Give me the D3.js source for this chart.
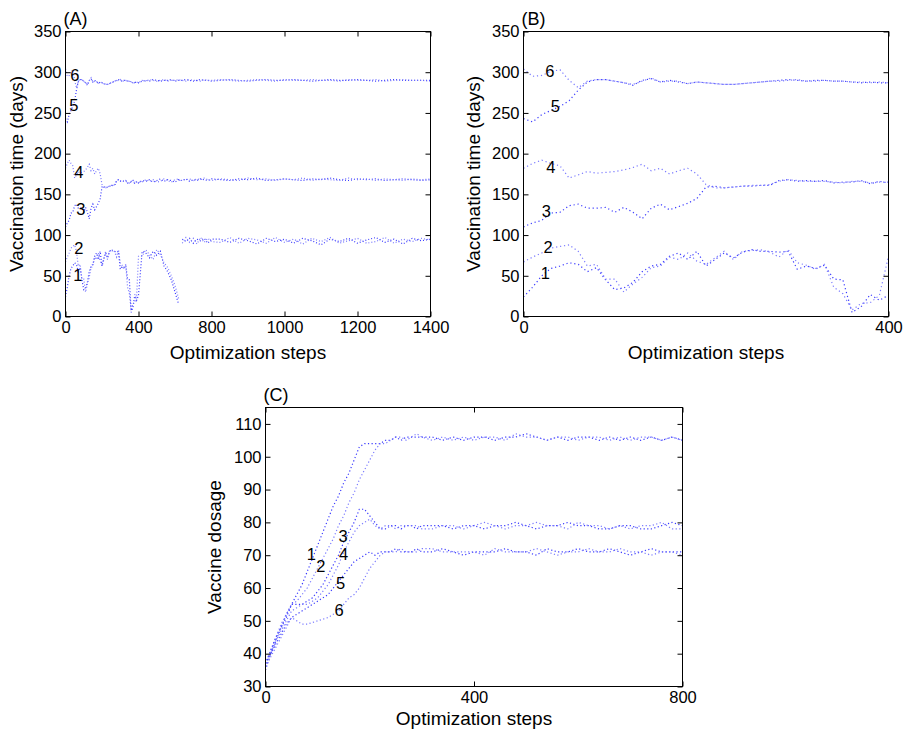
<!DOCTYPE html>
<html><head><meta charset="utf-8">
<script src="https://cdn.jsdelivr.net/npm/d3@7"></script>
<style>
body{margin:0;background:#fff}
text{font-family:"Liberation Sans",Arial,Helvetica,sans-serif;fill:#000}
</style>
</head><body>
<svg id="chart" width="909" height="732"></svg>
<script>
// ---------------- DATA ----------------
const seriesNames = ["1","2","3","4","5","6"];

// Early optimization steps (shared by panels A and B)
const stepsEarly = [0,10,20,30,40,50,60,70,80,90,100,110,120,130,140,150,160,170,180,190,200,
  210,220,230,240,250,260,270,280,290,300,310,320,330,340,350,360,370,380,390,400];
const early1 = [24,36,50,59,62,66,64,55,60,45,33,35,42,55,62,64,74,78,70,80,62,70,78,72,79,82,80,80,79,80,58,62,59,63,46,45,5,12,27,20,26];
const early2 = [67,73,78,84,86,88,80,62,64,46,46,30,40,48,60,62,73,70,78,68,64,72,80,70,80,81,82,79,73,82,66,63,58,64,36,28,8,16,17,26,74];
const early3 = [110,115,118,127,128,136,138,133,133,134,128,134,128,120,133,138,131,135,139,145,159,160,158,159,160,160,161,161,167,168,166,167,166,167,164,165,165,167,163,166,164];
const early4 = [182,188,192,188,185,170,174,178,176,177,178,180,183,187,179,182,175,179,182,175,162,158,158,159,160,161,161,162,166,168,167,166,166,166,165,164,166,166,164,165,165];
const early5 = [243,239,248,253,258,265,278,288,291,291,289,287,284,290,292,288,290,288,286,288,287,286,285,285,286,287,288,289,290,291,290,289,290,290,289,289,288,287,288,287,287];
const early6 = [304,295,296,301,303,290,281,289,291,291,289,287,285,289,293,288,289,289,286,288,287,286,285,285,286,287,288,289,289,290,291,289,289,290,289,289,288,288,287,288,287];

// Later steps (panel A only)
const stepsLateA = [420,440,460,480,500,520,540,560,580,600,620,630,640,660,680,700,720,740,760,780,800,
  825,850,875,900,925,950,975,1000,1025,1050,1075,1100,1125,1150,1175,1200,1225,1250,1275,1300,1325,1350,1375,1400];
const lateA1 = [80,78,72,80,75,80,62,55,45,30,15,null,95,92,96,90,95,93,96,90,95,
  95,91,96,93,89,96,92,95,90,96,93,88,95,92,96,90,94,97,91,95,89,96,93,95];
const lateA2 = [74,82,76,70,82,76,66,60,50,38,22,null,90,97,91,96,89,97,91,96,92,
  91,97,90,96,94,90,97,91,95,89,96,92,97,90,93,96,90,92,97,90,95,92,96,94];
const lateA3 = [167,166,168,165,167,169,166,168,167,165,168,167,167,169,166,168,167,169,168,167,169,
  168,167,169,168,170,167,168,169,168,167,169,168,170,168,167,169,168,169,167,168,169,168,167,168];
const lateA4 = [165,168,166,168,165,166,169,167,165,168,169,166,168,168,169,167,169,168,170,168,167,
  169,168,167,170,168,169,167,169,168,170,167,169,168,167,170,168,169,167,169,168,167,169,168,169];
const lateA5 = [289,290,289,291,290,289,290,290,291,289,290,290,290,291,290,289,290,291,290,290,289,
  290,291,290,289,290,291,290,290,291,290,289,290,291,290,290,291,290,289,290,291,290,290,290,290];
const lateA6 = [290,289,291,290,289,290,291,289,290,290,291,290,290,289,291,290,290,289,291,290,290,
  291,290,289,290,291,290,289,291,290,290,291,290,290,289,291,290,290,291,289,290,291,290,290,289];

// Panel C: vaccine dosage
const stepsC = [0,10,20,30,40,50,60,70,80,90,100,110,120,130,140,150,160,170,180,190,200,210,220,230,240,250,260,270,280,290,300,
  320,340,360,380,400,420,440,460,480,500,520,540,560,580,600,620,640,660,680,700,720,740,760,780,800];
const dose1 = [35,40,44,48,52,55,58,61,65,69,73,77,81,85,88,92,95,99,103,104,104,104,104,105,105,106,105,106,106,106,106,
  106,105,106,105,106,106,105,106,106,107,106,105,106,105,106,106,105,106,105,106,105,106,105,106,105];
const dose2 = [36,41,45,49,52,55,56,58,60,63,66,69,72,75,79,82,86,89,93,96,99,102,104,104,105,106,106,105,106,107,106,
  105,106,105,106,105,106,106,105,107,106,106,105,106,106,105,106,106,105,106,105,106,106,105,106,105];
const dose3 = [37,41,45,48,51,55,55,55,56,57,59,61,64,67,70,74,77,80,84,84,82,80,78,78,79,79,78,79,79,78,79,
  79,79,78,79,79,78,79,79,80,79,78,79,79,80,79,79,78,78,79,79,78,78,79,80,79];
const dose4 = [38,40,44,47,50,53,54,55,55,56,57,59,61,64,67,71,74,77,79,80,81,79,78,79,79,78,79,79,79,79,78,
  78,79,79,78,79,80,79,78,79,79,80,79,79,78,80,79,79,78,79,78,79,79,80,78,78];
const dose5 = [37,40,43,46,49,51,52,53,54,55,56,57,58,60,62,64,66,68,69,70,71,70,71,71,71,72,71,71,71,72,71,
  71,72,71,70,71,71,71,72,71,71,70,72,71,71,72,71,71,72,71,70,71,72,71,71,71];
const dose6 = [36,39,42,45,48,51,50,49,49,49.5,50,50.5,51,52,53,55,57,58,60,63,66,68,70,71,71,71,72,71,71,71,72,
  72,71,71,71,71,70,72,71,71,71,72,71,70,71,71,72,71,71,72,71,71,70,71,71,70];

// Ticks
const xTicksA = [0,400,800,1000,1200,1400];
const xTicksB = [0,400];
const xTicksC = [0,400,800];
const yTicksAB = [0,50,100,150,200,250,300,350];
const yTicksC = [30,40,50,60,70,80,90,100,110];

// Series label anchors [step, value]
const labelAtA = [[67,51],[73,84],[84,132],[73,178],[46,260],[51,296]];
const labelAtB = [[24,54],[27,85],[25,129],[30,184],[35,259],[29,301]];
const labelAtC = [[88,70.3],[106,66.7],[149,75.9],[150,70.3],[144,61.4],[141,53.2]];

// ---------------- STYLE ----------------
const seriesColors = ["#3a3aff","#7a7aff","#3a3aff","#7a7aff","#3a3aff","#7a7aff"];

// ---------------- DRAW ----------------
const svg = d3.select("#chart");

function zip(xs, ys){ return xs.map((s,i)=>[s, ys[i]]); }

const seriesA = [
  zip(stepsEarly.concat(stepsLateA), early1.concat(lateA1)),
  zip(stepsEarly.concat(stepsLateA), early2.concat(lateA2)),
  zip(stepsEarly.concat(stepsLateA), early3.concat(lateA3)),
  zip(stepsEarly.concat(stepsLateA), early4.concat(lateA4)),
  zip(stepsEarly.concat(stepsLateA), early5.concat(lateA5)),
  zip(stepsEarly.concat(stepsLateA), early6.concat(lateA6))
];
const seriesB = [early1,early2,early3,early4,early5,early6].map(v=>zip(stepsEarly, v));
const seriesC = [dose1,dose2,dose3,dose4,dose5,dose6].map(v=>zip(stepsC, v));

function drawPanel(p){
  const g = svg.append("g");
  const x = p.x, y = p.y;
  const [xl, xr] = [x.range()[0], x.range()[x.range().length-1]];
  const [yb, yt] = y.range();

  // series
  const line = d3.line().defined(d=>d[1]!=null).x(d=>x(d[0])).y(d=>y(d[1]));
  p.series.forEach((s,i)=>{
    g.append("path").datum(s)
      .attr("d", line)
      .attr("fill","none")
      .attr("stroke", seriesColors[i])
      .attr("stroke-width", 1.2)
      .attr("stroke-dasharray", p.dash);
  });

  // axes
  const fs = "16.5px";
  const bottom = g.append("g").attr("transform",`translate(0,${yb})`)
    .call(d3.axisBottom(x).tickValues(p.xTicks).tickFormat(d3.format("d")).tickSizeInner(-5).tickSizeOuter(0).tickPadding(5));
  const top = g.append("g").attr("transform",`translate(0,${yt})`)
    .call(d3.axisTop(x).tickValues(p.xTicks).tickFormat("").tickSizeInner(-5).tickSizeOuter(0));
  const left = g.append("g").attr("transform",`translate(${xl},0)`)
    .call(d3.axisLeft(y).tickValues(p.yTicks).tickFormat(d3.format("d")).tickSizeInner(-5).tickSizeOuter(0).tickPadding(4));
  const right = g.append("g").attr("transform",`translate(${xr},0)`)
    .call(d3.axisRight(y).tickValues(p.yTicks).tickFormat("").tickSizeInner(-5).tickSizeOuter(0));
  [bottom,top,left,right].forEach(a=>{
    a.select(".domain").remove();
    a.selectAll("line").attr("stroke","#000");
    a.selectAll("text").attr("font-size",fs).attr("font-family",null).style("fill","#000");
  });

  // frame
  g.append("rect").attr("x",xl).attr("y",yt).attr("width",xr-xl).attr("height",yb-yt)
    .attr("fill","none").attr("stroke","#000").attr("stroke-width",1);

  // series labels
  p.labels.forEach((d,i)=>{
    g.append("text").attr("x",x(d[0])).attr("y",y(d[1]))
      .attr("text-anchor","middle").attr("dominant-baseline","central")
      .attr("font-size","16.5px").text(seriesNames[i]);
  });

  // titles
  g.append("text").attr("x",(xl+xr)/2).attr("y",p.xTitleY)
    .attr("text-anchor","middle").attr("font-size","19px").text("Optimization steps");
  g.append("text").attr("transform",`translate(${p.yTitleX},${(yt+yb)/2}) rotate(-90)`)
    .attr("text-anchor","middle").attr("dominant-baseline","central")
    .attr("font-size","19px").text(p.yTitle);
  g.append("text").attr("x",xl-2).attr("y",yt-7).attr("font-size","18px").text(p.tag);
}

// Panel A (axis labelled 0,400,800,1000,1200,1400 at even spacing as in the figure)
const wA = 365;
drawPanel({
  x: d3.scaleLinear().domain([0,800,1400]).range([65.5, 65.5+0.4*wA, 65.5+wA]),
  y: d3.scaleLinear().domain([0,350]).range([316.5,31.5]),
  xTicks: xTicksA, yTicks: yTicksAB, series: seriesA, labels: labelAtA,
  dash: "1,2", xTitleY: 359, yTitleX: 16, yTitle: "Vaccination time (days)", tag: "(A)"
});
drawPanel({
  x: d3.scaleLinear().domain([0,400]).range([523.5,888.5]),
  y: d3.scaleLinear().domain([0,350]).range([316.5,31.5]),
  xTicks: xTicksB, yTicks: yTicksAB, series: seriesB, labels: labelAtB,
  dash: "1.2,2.8", xTitleY: 359, yTitleX: 473, yTitle: "Vaccination time (days)", tag: "(B)"
});
drawPanel({
  x: d3.scaleLinear().domain([0,800]).range([265.5,682.5]),
  y: d3.scaleLinear().domain([30,115]).range([686.5,407.5]),
  xTicks: xTicksC, yTicks: yTicksC, series: seriesC, labels: labelAtC,
  dash: "1.2,2.4", xTitleY: 725, yTitleX: 214, yTitle: "Vaccine dosage", tag: "(C)"
});
</script>
</body></html>
